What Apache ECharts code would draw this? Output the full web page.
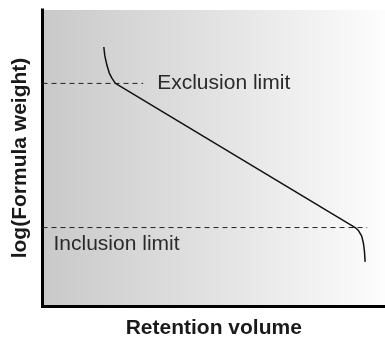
<!DOCTYPE html>
<html>
<head>
<meta charset="utf-8">
<script src="https://cdn.jsdelivr.net/npm/echarts@6/dist/echarts.min.js"></script>
<style>
  html, body { margin: 0; padding: 0; background: #fff; }
  #chart { width: 385px; height: 337px; }
</style>
</head>
<body>
<div id="chart"></div>
<script>
// Calibration curve of a size-exclusion column (arbitrary units, 0–100 on both axes)
const calibrationCurve = [
  [17.9, 87.5], [18.2, 84.5], [18.8, 81.4], [19.5, 78.7], [20.3, 76.9], [21.3, 75.2],
  [91.3, 26.5], [92.3, 25.4], [93.2, 23.6], [93.7, 21.2], [94.0, 18.5], [94.2, 14.9]
];
// Exclusion limit: upper molecular-weight limit
const exclusionLimit = [[0, 75.2], [29.4, 75.2]];
// Inclusion limit: lower molecular-weight limit
const inclusionLimit = [[0, 26.5], [94.8, 26.5]];

const axisTitles = { x: 'Retention volume', y: 'log(Formula weight)' };
const limitLabels = { exclusion: 'Exclusion limit', inclusion: 'Inclusion limit' };

const chart = echarts.init(document.getElementById('chart'), null, { renderer: 'canvas' });

const axisCommon = {
  type: 'value',
  min: 0,
  max: 100,
  axisLine: { show: true, lineStyle: { color: '#000', width: 3, cap: 'square' } },
  axisTick: { show: false },
  axisLabel: { show: false },
  splitLine: { show: false },
  nameLocation: 'middle',
  nameTextStyle: { fontFamily: 'Liberation Sans, Arial, sans-serif', fontWeight: 'bold', fontSize: 21, color: '#1a1a1a' }
};

const dashStyle = { color: '#222', width: 1, type: [5, 4] };
const labelFont = { fontFamily: 'Liberation Sans, Arial, sans-serif', fontSize: 21, color: '#2a2a2a' };

chart.setOption({
  animation: false,
  grid: {
    left: 42.5, right: 0, top: 10, bottom: 31,
    containLabel: false,
    outerBoundsMode: 'none',
    show: true,
    borderWidth: 0,
    backgroundColor: new echarts.graphic.LinearGradient(0, 0, 1, 0, [
      { offset: 0, color: '#c9c9c9' },
      { offset: 0.5, color: '#e2e2e2' },
      { offset: 1, color: '#fdfdfd' }
    ])
  },
  xAxis: Object.assign({}, axisCommon, { name: axisTitles.x, nameGap: 12 }),
  yAxis: Object.assign({}, axisCommon, { name: axisTitles.y, nameGap: 12 }),
  series: [
    {
      type: 'line',
      data: exclusionLimit,
      symbol: 'none',
      lineStyle: dashStyle,
      silent: true,
      endLabel: {
        show: true,
        formatter: limitLabels.exclusion,
        distance: 14,
        ...labelFont
      }
    },
    {
      type: 'line',
      data: inclusionLimit.map((p, i) => i === 0
        ? { value: p, label: { show: true, position: 'right', distance: 11, offset: [0, 17], formatter: limitLabels.inclusion, ...labelFont } }
        : p),
      symbol: 'circle',
      symbolSize: 0.01,
      showSymbol: true,
      itemStyle: { color: 'transparent', borderWidth: 0 },
      lineStyle: dashStyle,
      silent: true
    },
    {
      type: 'line',
      data: calibrationCurve,
      symbol: 'none',
      lineStyle: { color: '#111', width: 1.5 },
      silent: true
    }
  ]
});
</script>
</body>
</html>
